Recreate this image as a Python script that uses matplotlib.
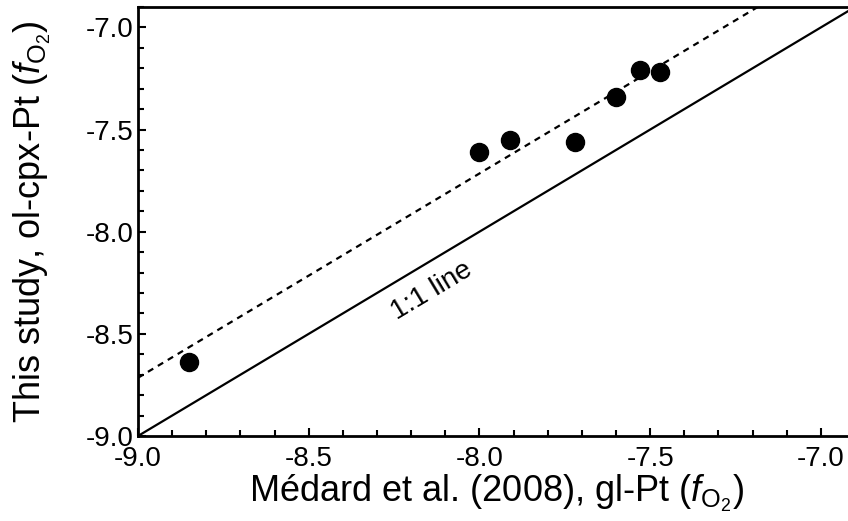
import numpy as np
import matplotlib
matplotlib.use("Agg")
import matplotlib.pyplot as plt
from matplotlib.ticker import MultipleLocator, FormatStrFormatter

# fO2 values: Medard et al. (2008) gl-Pt vs this study ol-cpx-Pt
medard_fo2 = [-8.85, -8.00, -7.91, -7.72, -7.60, -7.53, -7.47]
study_fo2 = [-8.64, -7.61, -7.55, -7.56, -7.34, -7.21, -7.22]
offset = 0.285  # dashed line sits above the 1:1 line by this much

plt.rcParams['font.family'] = ['Liberation Sans', 'DejaVu Sans']
plt.rcParams['mathtext.fontset'] = 'custom'
plt.rcParams['mathtext.rm'] = 'Liberation Sans'
plt.rcParams['mathtext.it'] = 'Liberation Sans:italic'
plt.rcParams['axes.unicode_minus'] = False

fig = plt.figure(figsize=(8.48, 5.21), dpi=100)
ax = fig.add_axes([138 / 848, 85 / 521, 717 / 848, 429 / 521])

line_x = np.array([-9.0, -6.9])
ax.plot(line_x, line_x, color='black', lw=1.6, zorder=2)
ax.plot(line_x, line_x + offset, color='black', lw=1.6, ls=(0, (2.8, 2.4)), zorder=2)
ax.plot(medard_fo2, study_fo2, 'o', color='black', ms=13, zorder=3)

ax.text(-8.14, -8.29, '1:1 line', rotation=31, ha='center', va='center',
        fontsize=20, rotation_mode='anchor')

ax.set_xlim(-9.0, -6.9)
ax.set_ylim(-9.0, -6.9)

for ax_ in (ax.xaxis, ax.yaxis):
    ax_.set_major_locator(MultipleLocator(0.5))
    ax_.set_minor_locator(MultipleLocator(0.1))
    ax_.set_major_formatter(FormatStrFormatter('%.1f'))

ax.tick_params(which='both', direction='in', width=1.5, labelsize=20,
               top=False, right=False)
ax.tick_params(which='major', length=6, pad=3)
ax.tick_params(which='minor', length=4)
ax.tick_params(axis='x', which='major', pad=7)

for s in ax.spines.values():
    s.set_linewidth(2)

ax.set_xlabel(r'Médard et al. (2008), gl-Pt ($\mathit{f}_{\mathrm{O}_2}$)', fontsize=26, labelpad=1)
ax.set_ylabel(r'This study, ol-cpx-Pt ($\mathit{f}_{\mathrm{O}_2}$)', fontsize=26, labelpad=24)

fig.savefig('out.png', dpi=100)
